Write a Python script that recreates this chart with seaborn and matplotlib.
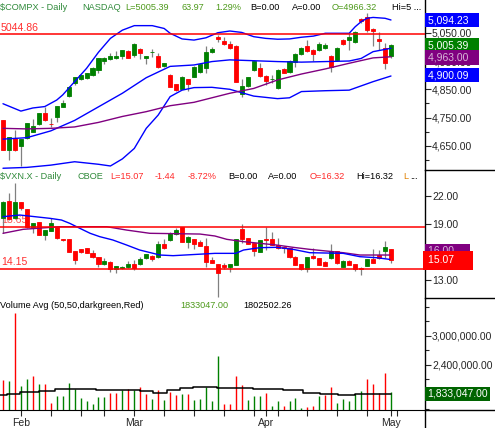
import numpy as np
import pandas as pd
import matplotlib
matplotlib.use('Agg')
import matplotlib.pyplot as plt
import matplotlib.transforms as mtransforms
from matplotlib.lines import Line2D
import seaborn as sns

# trading days 28 Jan 2015 .. 1 May 2015 (index on x axis)
days = np.arange(66)
month_pos = [3, 22, 44, 65]
month_labels = ['Feb', 'Mar', 'Apr', 'May']
week_pos = [8, 13, 17, 27, 32, 37, 42, 46, 51, 56, 61, 66]

# $COMPX daily candles
cmp_open = [4741, 4635, 4677, 4651, 4677, 4700, 4726, 4768, 4727, 4753, 4788, 4826, 4871, 4886, 4891, 4900,
            4918, 4951, 4956, 4960, 4968, 4985, 4971, 4992, 4959, 4982, 4968, 4933, 4902, 4867, 4852, 4885,
            4895, 4912, 4926, 4981, 5034, 5022, 5010, 5004, 4833, 4862, 4918, 4924, 4897, 4885, 4853, 4920,
            4912, 4948, 4975, 5003, 4989, 4989, 4997, 4968, 4954, 5024, 5024, 5018, 5097, 5107, 5063, 5027,
            4997, 4966]
cmp_high = [4741, 4683, 4706, 4676, 4731, 4745, 4768, 4786, 4750, 4792, 4812, 4860, 4893, 4901, 4907, 4930,
            4960, 4963, 4977, 4986, 4990, 4989, 5012, 4995, 4968, 4994, 4980, 4944, 4904, 4870, 4897, 4887,
            4932, 4940, 5004, 4999, 5042, 5034, 5020, 5006, 4886, 4893, 4952, 4942, 4899, 4900, 4920, 4925,
            4952, 4977, 4999, 5024, 4992, 5016, 5012, 4972, 4998, 5028, 5048, 5056, 5102, 5119, 5066, 5054,
            5015, 5009]
cmp_low = [4635, 4600, 4633, 4580, 4674, 4698, 4724, 4739, 4718, 4735, 4786, 4824, 4865, 4884, 4885, 4898,
           4906, 4938, 4955, 4958, 4957, 4960, 4965, 4957, 4938, 4965, 4926, 4930, 4857, 4845, 4850, 4845,
           4893, 4906, 4906, 4979, 5018, 5007, 4992, 4875, 4824, 4857, 4915, 4895, 4865, 4871, 4850, 4906,
           4908, 4930, 4972, 4983, 4951, 4986, 4994, 4912, 4950, 5008, 4990, 5015, 5083, 5052, 5003, 4989,
           4921, 4960]
cmp_close = [4635, 4683, 4635, 4674, 4730, 4720, 4767, 4741, 4726, 4792, 4801, 4859, 4892, 4900, 4906, 4926,
             4959, 4962, 4969, 4968, 4989, 4962, 5010, 4980, 4967, 4983, 4928, 4942, 4859, 4847, 4895, 4869,
             4930, 4938, 4981, 4994, 5027, 5009, 4995, 4877, 4862, 4892, 4950, 4897, 4879, 4886, 4918, 4909,
             4950, 4975, 4997, 4985, 4975, 5010, 5007, 4930, 4995, 5010, 5034, 5054, 5092, 5060, 5055, 5022,
             4942, 5005]

# Bollinger bands (20,2) and 50-day MA
bb_up_x = [0, 3, 5, 7, 9, 10, 12, 14, 16, 18, 20, 22, 25, 27, 28, 30, 32, 34, 36, 38, 40, 42, 44, 46, 48,
           50, 52, 54, 56, 58, 59, 60, 61, 62, 64, 65]
bb_up = [4799, 4773, 4784, 4789, 4812, 4830, 4877, 4924, 4981, 5030, 5059, 5075, 5075, 5065, 5048, 5028,
         5024, 5032, 5050, 5056, 5051, 5036, 5030, 5027, 5028, 5034, 5038, 5048, 5048, 5048, 5071, 5089,
         5101, 5104, 5101, 5095]
bb_mid_x = [0, 4, 8, 12, 16, 20, 24, 28, 32, 35, 38, 42, 46, 50, 54, 58, 60, 62, 65]
bb_mid = [4674, 4679, 4703, 4740, 4788, 4836, 4891, 4931, 4936, 4948, 4954, 4951, 4948, 4946, 4948, 4950,
          4959, 4983, 4995]
bb_low_x = [0, 4, 8, 12, 16, 18, 20, 22, 24, 26, 28, 30, 32, 35, 38, 42, 46, 48, 50, 54, 58, 62, 65]
bb_low = [4571, 4574, 4582, 4594, 4585, 4579, 4604, 4641, 4712, 4759, 4824, 4847, 4856, 4857, 4850, 4826,
          4817, 4820, 4842, 4845, 4847, 4877, 4897]
ma50_x = [0, 4, 8, 12, 16, 20, 24, 28, 32, 35, 38, 42, 46, 50, 54, 58, 62, 65]
ma50 = [4712, 4710, 4712, 4717, 4733, 4754, 4771, 4792, 4804, 4820, 4836, 4853, 4883, 4904, 4922, 4942,
        4961, 4965]

# $VXN.X daily candles
vxn_open = [19.59, 21.50, 19.59, 21.32, 20.56, 18.69, 19.23, 17.80, 18.26, 18.62, 17.33, 17.37, 16.07, 16.29,
            16.36, 15.89, 15.39, 14.63, 14.92, 14.10, 14.20, 14.31, 14.67, 14.63, 15.29, 15.53, 15.39, 16.83,
            17.26, 17.90, 18.62, 17.08, 17.33, 17.08, 16.61, 15.10, 14.67, 14.57, 14.39, 14.57, 18.44, 17.44,
            16.90, 16.00, 17.33, 17.33, 16.72, 16.54, 16.36, 15.46, 14.67, 14.10, 15.53, 15.29, 14.92, 15.29,
            16.07, 14.39, 15.03, 14.67, 14.28, 14.46, 15.21, 15.64, 16.11, 16.32]
vxn_high = [21.45, 22.29, 23.36, 21.40, 20.60, 19.13, 19.25, 18.33, 19.59, 18.65, 17.40, 17.40, 16.10, 16.32,
            16.43, 16.18, 15.42, 15.29, 14.95, 14.46, 14.42, 15.03, 15.10, 15.39, 15.75, 15.64, 17.19, 17.33,
            18.16, 18.50, 18.65, 17.65, 17.36, 17.26, 17.44, 15.46, 14.70, 14.74, 14.70, 17.40, 18.98, 17.47,
            16.93, 17.30, 18.62, 18.16, 17.44, 16.58, 16.40, 15.50, 14.70, 15.42, 16.36, 15.32, 14.95, 16.83,
            16.10, 15.06, 15.06, 14.70, 14.31, 15.24, 16.25, 16.18, 17.19, 16.32]
vxn_low = [17.98, 19.40, 19.50, 20.50, 18.55, 18.05, 17.75, 17.26, 18.20, 17.40, 17.20, 15.95, 14.67, 15.90,
           15.85, 15.29, 14.39, 14.60, 13.85, 13.74, 14.15, 14.28, 14.03, 14.60, 15.25, 15.03, 15.35, 16.30,
           17.20, 17.85, 17.05, 16.36, 16.25, 16.58, 14.39, 14.75, 11.15, 14.10, 13.78, 14.55, 16.90, 16.80,
           15.53, 15.97, 16.18, 16.70, 16.33, 15.89, 15.36, 14.54, 14.07, 13.85, 15.26, 14.54, 14.43, 15.26,
           14.71, 14.36, 14.54, 13.92, 13.49, 14.43, 14.79, 15.26, 15.29, 14.80]
vxn_close = [21.39, 19.50, 21.39, 20.67, 18.62, 19.13, 17.80, 18.33, 19.13, 17.44, 17.26, 16.00, 15.10, 15.93,
             15.89, 15.39, 14.63, 15.00, 14.13, 14.46, 14.39, 14.63, 14.28, 15.17, 15.71, 15.17, 16.83, 16.36,
             18.05, 18.33, 17.08, 17.62, 16.83, 16.61, 14.92, 14.78, 13.67, 14.39, 14.67, 17.37, 17.37, 16.83,
             16.11, 17.26, 17.26, 16.72, 16.36, 16.36, 15.39, 14.57, 14.10, 15.39, 15.29, 14.57, 14.46, 16.07,
             14.74, 15.03, 14.57, 14.10, 14.10, 15.21, 14.82, 15.29, 16.47, 15.07]
vxn_ma20_x = [0, 2.8, 7.9, 9.8, 11.2, 12.9, 14.6, 16.2, 18.4, 20.7, 22.9, 26.3, 28.5, 35.5, 39, 40.3, 43,
              45.8, 48.6, 51.4, 57, 59.8, 62.6, 64.8]
vxn_ma20 = [19.77, 19.95, 19.59, 19.41, 19.05, 18.51, 17.98, 17.62, 17.26, 16.72, 16.18, 15.64, 15.57, 15.82,
            15.82, 16.18, 16.43, 16.47, 16.25, 15.89, 15.82, 15.46, 15.35, 15.17]
vxn_ma50_x = [0, 3.4, 9.5, 17.4, 20.7, 24.6, 33, 35.5, 37.5, 40.3, 43, 45.8, 48.6, 51.4, 54.2, 57, 59.8, 64.8]
vxn_ma50 = [17.98, 18.41, 18.69, 18.69, 18.33, 17.98, 17.90, 17.69, 17.33, 17.08, 16.90, 16.72, 16.47, 16.25,
            16.07, 15.89, 15.64, 15.64]

# volume (millions) and direction
volume = [2.09, 2.07, 3.47, 1.96, 2.12, 2.17, 2.01, 2.01, 1.62, 1.76, 1.75, 2.02, 1.90, 1.72, 1.66, 1.59,
          1.73, 1.73, 1.83, 1.83, 1.88, 1.90, 1.88, 1.95, 1.80, 1.70, 1.88, 1.68, 1.85, 1.78, 1.81, 1.81,
          1.68, 1.70, 1.94, 1.66, 2.59, 1.59, 1.59, 2.17, 1.99, 1.68, 1.76, 1.76, 1.83, 1.56, 1.66, 1.56,
          1.66, 1.72, 1.52, 1.54, 1.56, 1.76, 1.78, 1.94, 1.62, 1.69, 1.66, 1.81, 1.86, 2.11, 2.01, 1.83,
          2.23, 1.833047]
vol_dir = ['dn', 'up', 'dn', 'up', 'up', 'dn', 'up', 'dn', 'dn', 'up', 'up', 'up', 'up', 'up', 'up', 'up',
           'up', 'up', 'dn', 'dn', 'up', 'dn', 'up', 'dn', 'dn', 'up', 'dn', 'up', 'dn', 'dn', 'up', 'dn',
           'up', 'up', 'up', 'up', 'up', 'dn', 'dn', 'dn', 'dn', 'up', 'up', 'up', 'dn', 'up', 'up', 'dn',
           'up', 'up', 'up', 'dn', 'dn', 'up', 'dn', 'dn', 'up', 'up', 'up', 'up', 'up', 'dn', 'dn', 'dn',
           'dn', 'up']
vma_x = [-0.5, 1.7, 4, 7.9, 9.5, 21.8, 24.1, 26.3, 28.5, 30.8, 33, 38.6, 45.3, 48.6, 52, 54.2, 58.1, 59.8, 65]
vma = [1.78, 1.81, 1.85, 1.86, 1.90, 1.88, 1.86, 1.83, 1.88, 1.92, 1.94, 1.92, 1.90, 1.88, 1.83, 1.79, 1.77,
       1.80, 1.81]

GREEN = '#008000'
RED = '#FF0000'
BLUE = '#0000FF'
PURPLE = '#800080'

sns.set_style('white')
plt.rcParams['font.family'] = ['Liberation Sans', 'DejaVu Sans']

W, H = 495, 428
fig = plt.figure(figsize=(W / 100, H / 100), dpi=100)
right = 425 / W
ax1 = fig.add_axes([0, 1 - 170 / H, right, 170 / H])
ax2 = fig.add_axes([0, 1 - 298 / H, right, 128 / H])
ax3 = fig.add_axes([0, 1 - 410 / H, right, 112 / H])


def candles(ax, o, h, l, c):
    o, h, l, c = map(np.asarray, (o, h, l, c))
    cols = np.where(c >= o, GREEN, RED)
    ax.vlines(days, l, h, color='#808080', lw=0.9, zorder=2)
    ax.bar(days, np.abs(c - o), bottom=np.minimum(o, c), width=0.68, color=cols,
           edgecolor=cols, linewidth=0.6, zorder=3)


# --- price panel
candles(ax1, cmp_open, cmp_high, cmp_low, cmp_close)
for xs, ys, col in [(bb_up_x, bb_up, BLUE), (bb_mid_x, bb_mid, BLUE), (bb_low_x, bb_low, BLUE),
                    (ma50_x, ma50, PURPLE)]:
    sns.lineplot(x=xs, y=ys, color=col, lw=1.0, ax=ax1, zorder=4)
ax1.axhline(5044.86, color=RED, lw=1.1, zorder=5)
ax1.set_ylim(4564.8, 5165.6)
ax1.set_yticks([4650, 4750, 4850, 4950, 5050])
ax1.set_yticks([4600, 4700, 4800, 4900, 5000, 5100], minor=True)
ax1.text(0.002, 5044.86 + 5, '5044.86', transform=mtransforms.blended_transform_factory(ax1.transAxes, ax1.transData),
         color='#ff3030', fontsize=7.6, ha='left', va='bottom', zorder=1)

# --- VXN panel
candles(ax2, vxn_open, vxn_high, vxn_low, vxn_close)
sns.lineplot(x=vxn_ma50_x, y=vxn_ma50, color=PURPLE, lw=1.0, ax=ax2, zorder=4)
sns.lineplot(x=vxn_ma20_x, y=vxn_ma20, color=BLUE, lw=1.0, ax=ax2, zorder=4)
ax2.axhline(18.65, color=RED, lw=1.1, zorder=5)
ax2.axhline(14.15, color=RED, lw=1.1, zorder=5)
ax2.set_ylim(11.01, 24.80)
ax2.set_yticks([13, 16, 19, 22])
tr2 = mtransforms.blended_transform_factory(ax2.transAxes, ax2.transData)
ax2.text(0.002, 18.65 + 0.2, '18.65', transform=tr2, color='#ff5050', fontsize=7.6, ha='left', va='bottom', zorder=1)
ax2.text(0.002, 14.15 + 0.25, '14.15', transform=tr2, color='#ff3030', fontsize=7.6, ha='left', va='bottom', zorder=1)

# --- volume panel
vol_df = pd.DataFrame({'day': days, 'vol': np.array(volume) * 1e6, 'dir': vol_dir})
vol_cols = vol_df['dir'].map({'up': GREEN, 'dn': RED})
ax3.vlines(vol_df['day'], 0, vol_df['vol'], colors=vol_cols, lw=1.0, zorder=3)
sns.lineplot(x=vma_x, y=np.array(vma) * 1e6, color='black', lw=1.1, ax=ax3, zorder=4, drawstyle='steps-mid')
ax3.set_ylim(1.469e6, 3.786e6)
ax3.set_yticks([2.4e6, 3.0e6])
ax3.set_yticks([1.5e6, 1.8e6, 2.1e6, 2.7e6, 3.3e6, 3.6e6], minor=True)

for ax in (ax1, ax2, ax3):
    ax.set_xlim(-0.5, 70.7)
    ax.set_xlabel('')
    ax.set_ylabel('')
    ax.patch.set_alpha(0)
    for s in ('top', 'left', 'bottom'):
        ax.spines[s].set_visible(False)
    ax.spines['right'].set_color('black')
    ax.spines['right'].set_linewidth(1)
    ax.yaxis.tick_right()
    ax.yaxis.set_major_formatter(matplotlib.ticker.FuncFormatter(lambda v, p: f'{v:,.2f}'))
    ax.tick_params(axis='y', which='both', direction='out', length=4, width=0.8, labelsize=7.5, pad=1,
                   right=True, left=False)
    ax.tick_params(axis='y', which='minor', length=3)
    ax.set_xticks([])

ax3.spines['bottom'].set_visible(True)
ax3.spines['bottom'].set_color('black')
ax3.set_xticks(month_pos)
ax3.set_xticklabels(month_labels)
ax3.set_xticks(week_pos, minor=True)
ax3.tick_params(axis='x', which='both', direction='out', length=4, width=0.8, labelsize=7.5, pad=2,
                bottom=True)

# separators in the axis column
for y in (170, 298, 410):
    fig.add_artist(Line2D([right, 1], [1 - y / H] * 2, color='black', lw=1, transform=fig.transFigure))
fig.add_artist(Line2D([right, right], [0, 1 - 410 / H], color='black', lw=1, transform=fig.transFigure))


def tag(ax, val, txt, col, tc='white', pad=0.22):
    tr = mtransforms.blended_transform_factory(ax.transAxes, ax.transData)
    ax.text(1.006, val, txt, transform=tr, ha='left', va='center', fontsize=7.5, color=tc,
            clip_on=False, zorder=10, bbox=dict(boxstyle=f'square,pad={pad}', fc=col, ec='none'))


tag(ax1, 4992, '4,995.00   ', BLUE, tc=BLUE)
tag(ax1, 5094.23, '5,094.23   ', BLUE)
tag(ax1, 5005.39, '5,005.39   ', GREEN)
tag(ax1, 4963.00, '4,963.00   ', PURPLE, tc='#d8b8d8')
tag(ax1, 4900.09, '4,900.09   ', BLUE)
tag(ax2, 16.05, '16.00     ', PURPLE, tc='#d8b8d8')
tag(ax2, 15.07, '15.07     ', RED, pad=0.45)
tag(ax3, 1.80e6, '1,833,047.00', '#006400')


def label(x, y, s, col, fs=6.6):
    fig.text(x / W, 1 - y / H, s, color=col, fontsize=fs, ha='left', va='center')


TG = '#2f8a3a'
VG = '#4e9a1c'
label(0, 7, '$COMPX - Daily', TG)
label(82, 7, 'NASDAQ', TG)
label(125, 7, 'L=5005.39', VG)
label(182, 7, '63.97', VG)
label(215, 7, '1.29%', VG)
label(250, 7, 'B=0.00', 'black')
label(292, 7, 'A=0.00', 'black')
label(332, 7, 'O=4966.32', VG)
label(392, 7, 'Hi=5 ...', 'black')

label(0, 177, '$VXN.X - Daily', TG)
label(77, 177, 'CBOE', TG)
label(110, 177, 'L=15.07', '#ff2a2a')
label(155, 177, '-1.44', '#ff2a2a')
label(188, 177, '-8.72%', '#ff2a2a')
label(228, 177, 'B=0.00', 'black')
label(268, 177, 'A=0.00', 'black')
label(310, 177, 'O=16.32', '#ff2a2a')
label(356, 177, 'Hi=16.32', 'black')
label(403, 177, 'L', '#e08000')
label(410, 177, '...', 'black')

label(0, 306, 'Volume Avg (50,50,darkgreen,Red)', 'black')
label(180, 306, '1833047.00', VG)
label(243, 306, '1802502.26', 'black')

fig.savefig('out.png', dpi=100)
